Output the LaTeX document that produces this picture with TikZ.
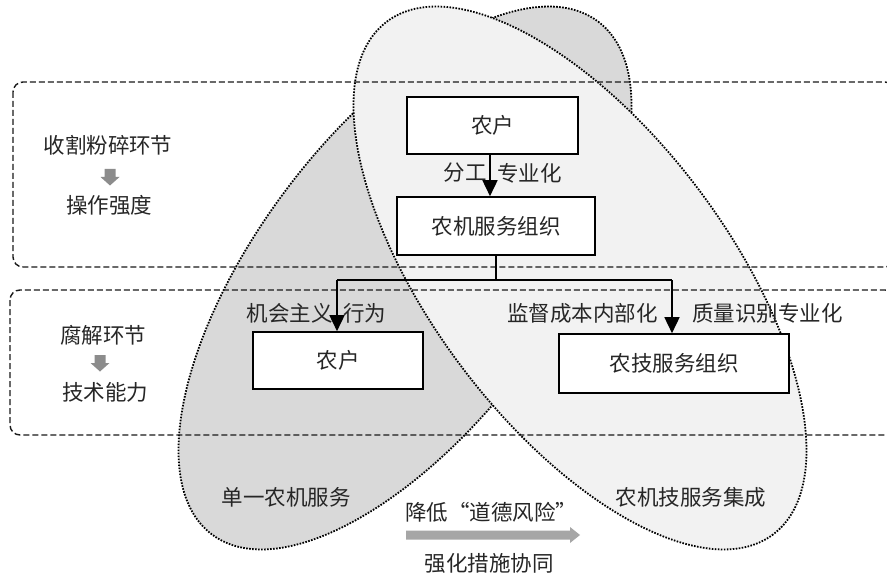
\documentclass[tikz,border=0pt]{standalone}
\usepackage{fontspec}
\setmainfont{Noto Sans CJK SC}
\usetikzlibrary{arrows.meta}
\begin{document}
\begin{tikzpicture}[x=1pt,y=-1pt,
  txt/.style={font=\fontsize{21.5}{24}\selectfont, text=black!85, inner sep=0pt},
  box/.style={draw=black, line width=1.6pt, fill=white, font=\fontsize{21.5}{24}\selectfont, text=black!85, inner sep=0pt},
  arr/.style={line width=1.6pt, -{Triangle[width=15pt,length=16pt]}},
  link/.style={line width=1.6pt},
  zone/.style={draw=black!90, line width=1.4pt, dash pattern=on 6pt off 3pt, rounded corners=10pt},
  dots/.style={draw=black, line width=1.8pt, dash pattern=on 1.6pt off 1.4pt},
  sarrow/.style={fill=black!45},
  barrow/.style={fill=black!35}]
\useasboundingbox (0,0) rectangle (887,575);
\fill[white] (0,0) rectangle (887,575);
% ellipses
\draw[dots, fill=black!15, shift={(405,278)}, rotate=53] (0,0) ellipse [x radius=321, y radius=148];
\draw[dots, fill=black!5, shift={(580,278)}, rotate=-53] (0,0) ellipse [x radius=321, y radius=148];
% zones
\draw[zone] (13,82) rectangle (895,267);
\draw[zone] (10,290) rectangle (895,435);
% boxes
\node[box, minimum width=171pt, minimum height=57pt] (f1) at (492.5,125.5) {农户};
\node[box, minimum width=198pt, minimum height=58pt] (o1) at (496,226) {农机服务组织};
\node[box, minimum width=170pt, minimum height=57pt] (f2) at (338,360.5) {农户};
\node[box, minimum width=230pt, minimum height=59pt] (t2) at (674,363.5) {农技服务组织};
% connectors
\coordinate (jl) at (337,280);
\coordinate (jr) at (672,280);
\draw[arr] ([xshift=-2.5pt]f1.south) -- ([xshift=-2.5pt]f1.south |- o1.north);
\draw[link] (o1.south) -- (o1.south |- jl);
\draw[link] (jl) -- (jr);
\draw[arr] (jl) -- (jl |- f2.north);
\draw[arr] (jr) -- (jr |- t2.north);
% arrow labels
\node[txt, anchor=east] (l1) at (487,173) {分工};
\node[txt, anchor=west] (l2) at (497,173) {专业化};
\node[txt, anchor=east] (l3) at (333,313) {机会主义};
\node[txt, anchor=west] (l4) at (343,313) {行为};
\node[txt, anchor=east] (l5) at (658,313) {监督成本内部化};
\node[txt, anchor=west] (l6) at (692,313) {质量识别专业化};
% left labels
\node[txt] (a1) at (108,145) {收割粉碎环节};
\fill[sarrow] (104.5,169) -- (115.5,169) -- (115.5,177) -- (119.5,177) -- (110,185.5) -- (100.5,177) -- (104.5,177) -- cycle;
\node[txt] (a2) at (109,205) {操作强度};
\node[txt] (b1) at (103,335) {腐解环节};
\fill[sarrow] (94.5,355) -- (105.5,355) -- (105.5,363) -- (109.5,363) -- (100,371.5) -- (90.5,363) -- (94.5,363) -- cycle;
\node[txt] (b2) at (105,392) {技术能力};
% bottom labels
\node[txt] (s1) at (286,497) {单一农机服务};
\node[txt] (s2) at (691,497) {农机技服务集成};
\node[txt] (m1) at (491,512) {降低“道德风险”};
\fill[barrow] (406,530.5) -- (570,530.5) -- (570,527) -- (580,535) -- (570,543) -- (570,539.5) -- (406,539.5) -- cycle;
\node[txt] (m2) at (489,563) {强化措施协同};
\end{tikzpicture}
\end{document}
